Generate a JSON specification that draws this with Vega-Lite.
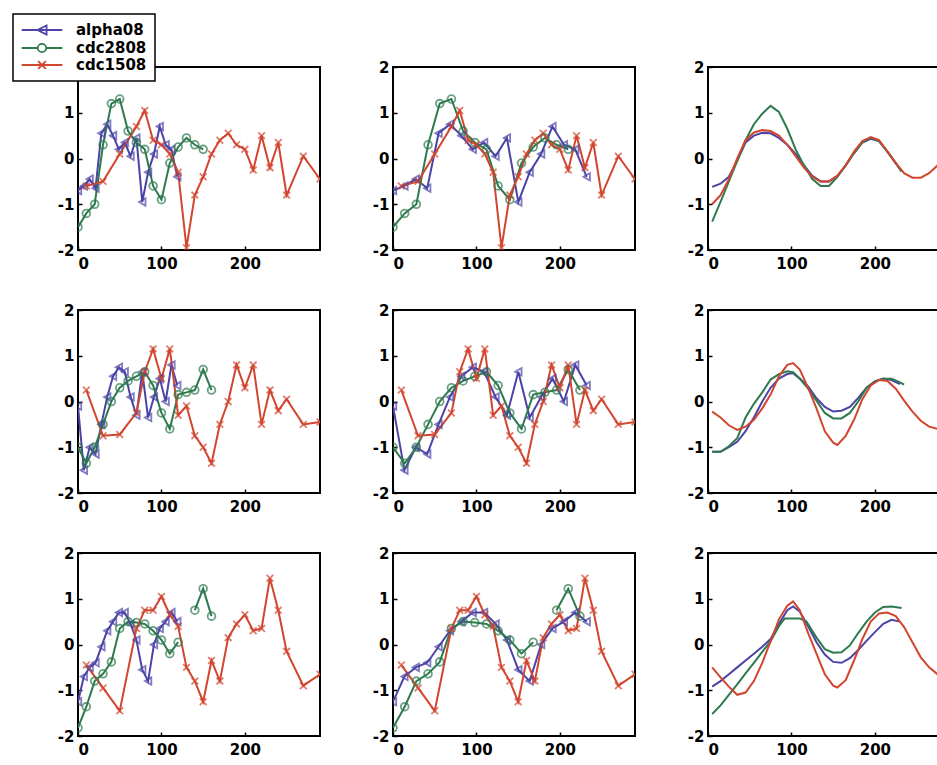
{
"$schema": "https://vega.github.io/schema/vega-lite/v6.json",
"padding": {"left": 12, "top": 13, "right": 5, "bottom": 5},
"background": "white",
"data": {"values": [
{"r":1,"c":1,"s":"alpha08","t":0,"z":-0.7},{"r":1,"c":1,"s":"alpha08","t":7,"z":-0.6},{"r":1,"c":1,"s":"alpha08","t":14,"z":-0.45},{"r":1,"c":1,"s":"alpha08","t":21,"z":-0.65},{"r":1,"c":1,"s":"alpha08","t":28,"z":0.55},{"r":1,"c":1,"s":"alpha08","t":35,"z":0.75},{"r":1,"c":1,"s":"alpha08","t":42,"z":0.5},{"r":1,"c":1,"s":"alpha08","t":49,"z":0.2},{"r":1,"c":1,"s":"alpha08","t":56,"z":0.35},{"r":1,"c":1,"s":"alpha08","t":63,"z":0.05},{"r":1,"c":1,"s":"alpha08","t":70,"z":0.45},{"r":1,"c":1,"s":"alpha08","t":77,"z":-0.95},{"r":1,"c":1,"s":"alpha08","t":84,"z":-0.3},{"r":1,"c":1,"s":"alpha08","t":91,"z":0.1},{"r":1,"c":1,"s":"alpha08","t":98,"z":0.7},{"r":1,"c":1,"s":"alpha08","t":105,"z":0.3},{"r":1,"c":1,"s":"alpha08","t":112,"z":0.2},{"r":1,"c":1,"s":"alpha08","t":119,"z":-0.4},
{"r":1,"c":1,"s":"cdc2808","t":0,"z":-1.5},{"r":1,"c":1,"s":"cdc2808","t":10,"z":-1.2},{"r":1,"c":1,"s":"cdc2808","t":20,"z":-1.0},{"r":1,"c":1,"s":"cdc2808","t":30,"z":0.3},{"r":1,"c":1,"s":"cdc2808","t":40,"z":1.2},{"r":1,"c":1,"s":"cdc2808","t":50,"z":1.3},{"r":1,"c":1,"s":"cdc2808","t":60,"z":0.6},{"r":1,"c":1,"s":"cdc2808","t":70,"z":0.35},{"r":1,"c":1,"s":"cdc2808","t":80,"z":0.2},{"r":1,"c":1,"s":"cdc2808","t":90,"z":-0.6},{"r":1,"c":1,"s":"cdc2808","t":100,"z":-0.9},{"r":1,"c":1,"s":"cdc2808","t":110,"z":-0.1},{"r":1,"c":1,"s":"cdc2808","t":120,"z":0.25},{"r":1,"c":1,"s":"cdc2808","t":130,"z":0.45},{"r":1,"c":1,"s":"cdc2808","t":140,"z":0.3},{"r":1,"c":1,"s":"cdc2808","t":150,"z":0.2},
{"r":1,"c":1,"s":"cdc1508","t":10,"z":-0.6},{"r":1,"c":1,"s":"cdc1508","t":30,"z":-0.5},{"r":1,"c":1,"s":"cdc1508","t":50,"z":0.1},{"r":1,"c":1,"s":"cdc1508","t":70,"z":0.7},{"r":1,"c":1,"s":"cdc1508","t":80,"z":1.05},{"r":1,"c":1,"s":"cdc1508","t":90,"z":0.4},{"r":1,"c":1,"s":"cdc1508","t":100,"z":0.3},{"r":1,"c":1,"s":"cdc1508","t":110,"z":0.1},{"r":1,"c":1,"s":"cdc1508","t":120,"z":-0.3},{"r":1,"c":1,"s":"cdc1508","t":130,"z":-1.95},{"r":1,"c":1,"s":"cdc1508","t":140,"z":-0.8},{"r":1,"c":1,"s":"cdc1508","t":150,"z":-0.4},{"r":1,"c":1,"s":"cdc1508","t":160,"z":0.1},{"r":1,"c":1,"s":"cdc1508","t":170,"z":0.4},{"r":1,"c":1,"s":"cdc1508","t":180,"z":0.55},{"r":1,"c":1,"s":"cdc1508","t":190,"z":0.3},{"r":1,"c":1,"s":"cdc1508","t":200,"z":0.2},{"r":1,"c":1,"s":"cdc1508","t":210,"z":-0.25},{"r":1,"c":1,"s":"cdc1508","t":220,"z":0.5},{"r":1,"c":1,"s":"cdc1508","t":230,"z":-0.2},{"r":1,"c":1,"s":"cdc1508","t":240,"z":0.35},{"r":1,"c":1,"s":"cdc1508","t":250,"z":-0.8},{"r":1,"c":1,"s":"cdc1508","t":270,"z":0.05},{"r":1,"c":1,"s":"cdc1508","t":290,"z":-0.45},

{"r":1,"c":2,"s":"alpha08","t":0,"z":-0.7},{"r":1,"c":2,"s":"alpha08","t":13.7,"z":-0.6},{"r":1,"c":2,"s":"alpha08","t":27.3,"z":-0.45},{"r":1,"c":2,"s":"alpha08","t":41,"z":-0.65},{"r":1,"c":2,"s":"alpha08","t":54.6,"z":0.55},{"r":1,"c":2,"s":"alpha08","t":68.3,"z":0.75},{"r":1,"c":2,"s":"alpha08","t":81.9,"z":0.5},{"r":1,"c":2,"s":"alpha08","t":95.6,"z":0.2},{"r":1,"c":2,"s":"alpha08","t":109.2,"z":0.35},{"r":1,"c":2,"s":"alpha08","t":122.9,"z":0.05},{"r":1,"c":2,"s":"alpha08","t":136.5,"z":0.45},{"r":1,"c":2,"s":"alpha08","t":150.2,"z":-0.95},{"r":1,"c":2,"s":"alpha08","t":163.8,"z":-0.3},{"r":1,"c":2,"s":"alpha08","t":177.5,"z":0.1},{"r":1,"c":2,"s":"alpha08","t":191.1,"z":0.7},{"r":1,"c":2,"s":"alpha08","t":204.8,"z":0.3},{"r":1,"c":2,"s":"alpha08","t":218.4,"z":0.2},{"r":1,"c":2,"s":"alpha08","t":232.1,"z":-0.4},
{"r":1,"c":2,"s":"cdc2808","t":0,"z":-1.5},{"r":1,"c":2,"s":"cdc2808","t":14,"z":-1.2},{"r":1,"c":2,"s":"cdc2808","t":28,"z":-1.0},{"r":1,"c":2,"s":"cdc2808","t":42,"z":0.3},{"r":1,"c":2,"s":"cdc2808","t":56,"z":1.2},{"r":1,"c":2,"s":"cdc2808","t":70,"z":1.3},{"r":1,"c":2,"s":"cdc2808","t":84,"z":0.6},{"r":1,"c":2,"s":"cdc2808","t":98,"z":0.35},{"r":1,"c":2,"s":"cdc2808","t":112,"z":0.2},{"r":1,"c":2,"s":"cdc2808","t":126,"z":-0.6},{"r":1,"c":2,"s":"cdc2808","t":140,"z":-0.9},{"r":1,"c":2,"s":"cdc2808","t":154,"z":-0.1},{"r":1,"c":2,"s":"cdc2808","t":168,"z":0.25},{"r":1,"c":2,"s":"cdc2808","t":182,"z":0.45},{"r":1,"c":2,"s":"cdc2808","t":196,"z":0.3},{"r":1,"c":2,"s":"cdc2808","t":210,"z":0.2},
{"r":1,"c":2,"s":"cdc1508","t":10,"z":-0.6},{"r":1,"c":2,"s":"cdc1508","t":30,"z":-0.5},{"r":1,"c":2,"s":"cdc1508","t":50,"z":0.1},{"r":1,"c":2,"s":"cdc1508","t":70,"z":0.7},{"r":1,"c":2,"s":"cdc1508","t":80,"z":1.05},{"r":1,"c":2,"s":"cdc1508","t":90,"z":0.4},{"r":1,"c":2,"s":"cdc1508","t":100,"z":0.3},{"r":1,"c":2,"s":"cdc1508","t":110,"z":0.1},{"r":1,"c":2,"s":"cdc1508","t":120,"z":-0.3},{"r":1,"c":2,"s":"cdc1508","t":130,"z":-1.95},{"r":1,"c":2,"s":"cdc1508","t":140,"z":-0.8},{"r":1,"c":2,"s":"cdc1508","t":150,"z":-0.4},{"r":1,"c":2,"s":"cdc1508","t":160,"z":0.1},{"r":1,"c":2,"s":"cdc1508","t":170,"z":0.4},{"r":1,"c":2,"s":"cdc1508","t":180,"z":0.55},{"r":1,"c":2,"s":"cdc1508","t":190,"z":0.3},{"r":1,"c":2,"s":"cdc1508","t":200,"z":0.2},{"r":1,"c":2,"s":"cdc1508","t":210,"z":-0.25},{"r":1,"c":2,"s":"cdc1508","t":220,"z":0.5},{"r":1,"c":2,"s":"cdc1508","t":230,"z":-0.2},{"r":1,"c":2,"s":"cdc1508","t":240,"z":0.35},{"r":1,"c":2,"s":"cdc1508","t":250,"z":-0.8},{"r":1,"c":2,"s":"cdc1508","t":270,"z":0.05},{"r":1,"c":2,"s":"cdc1508","t":290,"z":-0.45},

{"r":1,"c":3,"s":"alpha08","t":5,"z":-0.62},{"r":1,"c":3,"s":"alpha08","t":15,"z":-0.55},{"r":1,"c":3,"s":"alpha08","t":25,"z":-0.4},{"r":1,"c":3,"s":"alpha08","t":35,"z":-0.05},{"r":1,"c":3,"s":"alpha08","t":45,"z":0.35},{"r":1,"c":3,"s":"alpha08","t":55,"z":0.5},{"r":1,"c":3,"s":"alpha08","t":65,"z":0.56},{"r":1,"c":3,"s":"alpha08","t":75,"z":0.55},{"r":1,"c":3,"s":"alpha08","t":85,"z":0.45},{"r":1,"c":3,"s":"alpha08","t":95,"z":0.3},{"r":1,"c":3,"s":"alpha08","t":105,"z":0.1},{"r":1,"c":3,"s":"alpha08","t":115,"z":-0.15},{"r":1,"c":3,"s":"alpha08","t":125,"z":-0.38},{"r":1,"c":3,"s":"alpha08","t":135,"z":-0.5},{"r":1,"c":3,"s":"alpha08","t":145,"z":-0.5},{"r":1,"c":3,"s":"alpha08","t":155,"z":-0.38},{"r":1,"c":3,"s":"alpha08","t":165,"z":-0.15},{"r":1,"c":3,"s":"alpha08","t":175,"z":0.12},{"r":1,"c":3,"s":"alpha08","t":185,"z":0.35},{"r":1,"c":3,"s":"alpha08","t":195,"z":0.43},{"r":1,"c":3,"s":"alpha08","t":205,"z":0.38},{"r":1,"c":3,"s":"alpha08","t":215,"z":0.15},{"r":1,"c":3,"s":"alpha08","t":225,"z":-0.1},{"r":1,"c":3,"s":"alpha08","t":232,"z":-0.28},
{"r":1,"c":3,"s":"cdc2808","t":5,"z":-1.38},{"r":1,"c":3,"s":"cdc2808","t":15,"z":-0.95},{"r":1,"c":3,"s":"cdc2808","t":25,"z":-0.5},{"r":1,"c":3,"s":"cdc2808","t":35,"z":-0.05},{"r":1,"c":3,"s":"cdc2808","t":45,"z":0.4},{"r":1,"c":3,"s":"cdc2808","t":55,"z":0.75},{"r":1,"c":3,"s":"cdc2808","t":65,"z":0.98},{"r":1,"c":3,"s":"cdc2808","t":75,"z":1.15},{"r":1,"c":3,"s":"cdc2808","t":85,"z":1.02},{"r":1,"c":3,"s":"cdc2808","t":95,"z":0.65},{"r":1,"c":3,"s":"cdc2808","t":105,"z":0.2},{"r":1,"c":3,"s":"cdc2808","t":115,"z":-0.15},{"r":1,"c":3,"s":"cdc2808","t":125,"z":-0.45},{"r":1,"c":3,"s":"cdc2808","t":135,"z":-0.6},{"r":1,"c":3,"s":"cdc2808","t":145,"z":-0.6},{"r":1,"c":3,"s":"cdc2808","t":155,"z":-0.4},{"r":1,"c":3,"s":"cdc2808","t":165,"z":-0.15},{"r":1,"c":3,"s":"cdc2808","t":175,"z":0.12},{"r":1,"c":3,"s":"cdc2808","t":185,"z":0.35},{"r":1,"c":3,"s":"cdc2808","t":195,"z":0.45},{"r":1,"c":3,"s":"cdc2808","t":205,"z":0.38},{"r":1,"c":3,"s":"cdc2808","t":215,"z":0.15},{"r":1,"c":3,"s":"cdc2808","t":225,"z":-0.1},{"r":1,"c":3,"s":"cdc2808","t":232,"z":-0.28},
{"r":1,"c":3,"s":"cdc1508","t":5,"z":-1.0},{"r":1,"c":3,"s":"cdc1508","t":15,"z":-0.8},{"r":1,"c":3,"s":"cdc1508","t":25,"z":-0.45},{"r":1,"c":3,"s":"cdc1508","t":35,"z":0.0},{"r":1,"c":3,"s":"cdc1508","t":45,"z":0.4},{"r":1,"c":3,"s":"cdc1508","t":55,"z":0.57},{"r":1,"c":3,"s":"cdc1508","t":65,"z":0.62},{"r":1,"c":3,"s":"cdc1508","t":75,"z":0.6},{"r":1,"c":3,"s":"cdc1508","t":85,"z":0.5},{"r":1,"c":3,"s":"cdc1508","t":95,"z":0.3},{"r":1,"c":3,"s":"cdc1508","t":105,"z":0.05},{"r":1,"c":3,"s":"cdc1508","t":115,"z":-0.2},{"r":1,"c":3,"s":"cdc1508","t":125,"z":-0.4},{"r":1,"c":3,"s":"cdc1508","t":135,"z":-0.5},{"r":1,"c":3,"s":"cdc1508","t":145,"z":-0.5},{"r":1,"c":3,"s":"cdc1508","t":155,"z":-0.38},{"r":1,"c":3,"s":"cdc1508","t":165,"z":-0.15},{"r":1,"c":3,"s":"cdc1508","t":175,"z":0.15},{"r":1,"c":3,"s":"cdc1508","t":185,"z":0.38},{"r":1,"c":3,"s":"cdc1508","t":195,"z":0.47},{"r":1,"c":3,"s":"cdc1508","t":205,"z":0.4},{"r":1,"c":3,"s":"cdc1508","t":215,"z":0.15},{"r":1,"c":3,"s":"cdc1508","t":225,"z":-0.1},{"r":1,"c":3,"s":"cdc1508","t":235,"z":-0.32},{"r":1,"c":3,"s":"cdc1508","t":245,"z":-0.42},{"r":1,"c":3,"s":"cdc1508","t":255,"z":-0.42},{"r":1,"c":3,"s":"cdc1508","t":265,"z":-0.32},{"r":1,"c":3,"s":"cdc1508","t":275,"z":-0.15},{"r":1,"c":3,"s":"cdc1508","t":285,"z":-0.12},{"r":1,"c":3,"s":"cdc1508","t":290,"z":-0.12},

{"r":2,"c":1,"s":"alpha08","t":0,"z":-0.1},{"r":2,"c":1,"s":"alpha08","t":7,"z":-1.5},{"r":2,"c":1,"s":"alpha08","t":14,"z":-1.0},{"r":2,"c":1,"s":"alpha08","t":21,"z":-1.15},{"r":2,"c":1,"s":"alpha08","t":28,"z":-0.5},{"r":2,"c":1,"s":"alpha08","t":35,"z":0.1},{"r":2,"c":1,"s":"alpha08","t":42,"z":0.55},{"r":2,"c":1,"s":"alpha08","t":49,"z":0.75},{"r":2,"c":1,"s":"alpha08","t":56,"z":0.65},{"r":2,"c":1,"s":"alpha08","t":63,"z":0.1},{"r":2,"c":1,"s":"alpha08","t":70,"z":-0.3},{"r":2,"c":1,"s":"alpha08","t":77,"z":0.65},{"r":2,"c":1,"s":"alpha08","t":84,"z":-0.35},{"r":2,"c":1,"s":"alpha08","t":91,"z":0.1},{"r":2,"c":1,"s":"alpha08","t":98,"z":0.5},{"r":2,"c":1,"s":"alpha08","t":105,"z":0.0},{"r":2,"c":1,"s":"alpha08","t":112,"z":0.8},{"r":2,"c":1,"s":"alpha08","t":119,"z":0.35},
{"r":2,"c":1,"s":"cdc2808","t":0,"z":-1.0},{"r":2,"c":1,"s":"cdc2808","t":10,"z":-1.35},{"r":2,"c":1,"s":"cdc2808","t":20,"z":-1.0},{"r":2,"c":1,"s":"cdc2808","t":30,"z":-0.5},{"r":2,"c":1,"s":"cdc2808","t":40,"z":0.0},{"r":2,"c":1,"s":"cdc2808","t":50,"z":0.3},{"r":2,"c":1,"s":"cdc2808","t":60,"z":0.45},{"r":2,"c":1,"s":"cdc2808","t":70,"z":0.55},{"r":2,"c":1,"s":"cdc2808","t":80,"z":0.65},{"r":2,"c":1,"s":"cdc2808","t":90,"z":0.35},{"r":2,"c":1,"s":"cdc2808","t":100,"z":-0.25},{"r":2,"c":1,"s":"cdc2808","t":110,"z":-0.6},{"r":2,"c":1,"s":"cdc2808","t":120,"z":0.15},{"r":2,"c":1,"s":"cdc2808","t":130,"z":0.2},{"r":2,"c":1,"s":"cdc2808","t":140,"z":0.25},{"r":2,"c":1,"s":"cdc2808","t":150,"z":0.7},{"r":2,"c":1,"s":"cdc2808","t":160,"z":0.25},
{"r":2,"c":1,"s":"cdc1508","t":10,"z":0.25},{"r":2,"c":1,"s":"cdc1508","t":30,"z":-0.75},{"r":2,"c":1,"s":"cdc1508","t":50,"z":-0.72},{"r":2,"c":1,"s":"cdc1508","t":70,"z":-0.25},{"r":2,"c":1,"s":"cdc1508","t":80,"z":0.65},{"r":2,"c":1,"s":"cdc1508","t":90,"z":1.15},{"r":2,"c":1,"s":"cdc1508","t":100,"z":0.5},{"r":2,"c":1,"s":"cdc1508","t":110,"z":1.15},{"r":2,"c":1,"s":"cdc1508","t":120,"z":-0.3},{"r":2,"c":1,"s":"cdc1508","t":130,"z":-0.1},{"r":2,"c":1,"s":"cdc1508","t":140,"z":-0.75},{"r":2,"c":1,"s":"cdc1508","t":150,"z":-1.0},{"r":2,"c":1,"s":"cdc1508","t":160,"z":-1.35},{"r":2,"c":1,"s":"cdc1508","t":170,"z":-0.5},{"r":2,"c":1,"s":"cdc1508","t":180,"z":0.0},{"r":2,"c":1,"s":"cdc1508","t":190,"z":0.8},{"r":2,"c":1,"s":"cdc1508","t":200,"z":0.3},{"r":2,"c":1,"s":"cdc1508","t":210,"z":0.8},{"r":2,"c":1,"s":"cdc1508","t":220,"z":-0.5},{"r":2,"c":1,"s":"cdc1508","t":230,"z":0.25},{"r":2,"c":1,"s":"cdc1508","t":240,"z":-0.2},{"r":2,"c":1,"s":"cdc1508","t":250,"z":0.05},{"r":2,"c":1,"s":"cdc1508","t":270,"z":-0.5},{"r":2,"c":1,"s":"cdc1508","t":290,"z":-0.45},

{"r":2,"c":2,"s":"alpha08","t":0,"z":-0.1},{"r":2,"c":2,"s":"alpha08","t":13.7,"z":-1.5},{"r":2,"c":2,"s":"alpha08","t":27.3,"z":-1.0},{"r":2,"c":2,"s":"alpha08","t":41,"z":-1.15},{"r":2,"c":2,"s":"alpha08","t":54.6,"z":-0.5},{"r":2,"c":2,"s":"alpha08","t":68.3,"z":0.1},{"r":2,"c":2,"s":"alpha08","t":81.9,"z":0.55},{"r":2,"c":2,"s":"alpha08","t":95.6,"z":0.75},{"r":2,"c":2,"s":"alpha08","t":109.2,"z":0.65},{"r":2,"c":2,"s":"alpha08","t":122.9,"z":0.1},{"r":2,"c":2,"s":"alpha08","t":136.5,"z":-0.3},{"r":2,"c":2,"s":"alpha08","t":150.2,"z":0.65},{"r":2,"c":2,"s":"alpha08","t":163.8,"z":-0.35},{"r":2,"c":2,"s":"alpha08","t":177.5,"z":0.1},{"r":2,"c":2,"s":"alpha08","t":191.1,"z":0.5},{"r":2,"c":2,"s":"alpha08","t":204.8,"z":0.0},{"r":2,"c":2,"s":"alpha08","t":218.4,"z":0.8},{"r":2,"c":2,"s":"alpha08","t":232.1,"z":0.35},
{"r":2,"c":2,"s":"cdc2808","t":0,"z":-1.0},{"r":2,"c":2,"s":"cdc2808","t":14,"z":-1.35},{"r":2,"c":2,"s":"cdc2808","t":28,"z":-1.0},{"r":2,"c":2,"s":"cdc2808","t":42,"z":-0.5},{"r":2,"c":2,"s":"cdc2808","t":56,"z":0.0},{"r":2,"c":2,"s":"cdc2808","t":70,"z":0.3},{"r":2,"c":2,"s":"cdc2808","t":84,"z":0.45},{"r":2,"c":2,"s":"cdc2808","t":98,"z":0.55},{"r":2,"c":2,"s":"cdc2808","t":112,"z":0.65},{"r":2,"c":2,"s":"cdc2808","t":126,"z":0.35},{"r":2,"c":2,"s":"cdc2808","t":140,"z":-0.25},{"r":2,"c":2,"s":"cdc2808","t":154,"z":-0.6},{"r":2,"c":2,"s":"cdc2808","t":168,"z":0.15},{"r":2,"c":2,"s":"cdc2808","t":182,"z":0.2},{"r":2,"c":2,"s":"cdc2808","t":196,"z":0.25},{"r":2,"c":2,"s":"cdc2808","t":210,"z":0.7},{"r":2,"c":2,"s":"cdc2808","t":224,"z":0.25},
{"r":2,"c":2,"s":"cdc1508","t":10,"z":0.25},{"r":2,"c":2,"s":"cdc1508","t":30,"z":-0.75},{"r":2,"c":2,"s":"cdc1508","t":50,"z":-0.72},{"r":2,"c":2,"s":"cdc1508","t":70,"z":-0.25},{"r":2,"c":2,"s":"cdc1508","t":80,"z":0.65},{"r":2,"c":2,"s":"cdc1508","t":90,"z":1.15},{"r":2,"c":2,"s":"cdc1508","t":100,"z":0.5},{"r":2,"c":2,"s":"cdc1508","t":110,"z":1.15},{"r":2,"c":2,"s":"cdc1508","t":120,"z":-0.3},{"r":2,"c":2,"s":"cdc1508","t":130,"z":-0.1},{"r":2,"c":2,"s":"cdc1508","t":140,"z":-0.75},{"r":2,"c":2,"s":"cdc1508","t":150,"z":-1.0},{"r":2,"c":2,"s":"cdc1508","t":160,"z":-1.35},{"r":2,"c":2,"s":"cdc1508","t":170,"z":-0.5},{"r":2,"c":2,"s":"cdc1508","t":180,"z":0.0},{"r":2,"c":2,"s":"cdc1508","t":190,"z":0.8},{"r":2,"c":2,"s":"cdc1508","t":200,"z":0.3},{"r":2,"c":2,"s":"cdc1508","t":210,"z":0.8},{"r":2,"c":2,"s":"cdc1508","t":220,"z":-0.5},{"r":2,"c":2,"s":"cdc1508","t":230,"z":0.25},{"r":2,"c":2,"s":"cdc1508","t":240,"z":-0.2},{"r":2,"c":2,"s":"cdc1508","t":250,"z":0.05},{"r":2,"c":2,"s":"cdc1508","t":270,"z":-0.5},{"r":2,"c":2,"s":"cdc1508","t":290,"z":-0.45},

{"r":2,"c":3,"s":"alpha08","t":5,"z":-1.1},{"r":2,"c":3,"s":"alpha08","t":15,"z":-1.1},{"r":2,"c":3,"s":"alpha08","t":25,"z":-1.0},{"r":2,"c":3,"s":"alpha08","t":35,"z":-0.88},{"r":2,"c":3,"s":"alpha08","t":45,"z":-0.65},{"r":2,"c":3,"s":"alpha08","t":55,"z":-0.35},{"r":2,"c":3,"s":"alpha08","t":65,"z":0.0},{"r":2,"c":3,"s":"alpha08","t":75,"z":0.3},{"r":2,"c":3,"s":"alpha08","t":85,"z":0.5},{"r":2,"c":3,"s":"alpha08","t":95,"z":0.6},{"r":2,"c":3,"s":"alpha08","t":102,"z":0.62},{"r":2,"c":3,"s":"alpha08","t":110,"z":0.5},{"r":2,"c":3,"s":"alpha08","t":120,"z":0.33},{"r":2,"c":3,"s":"alpha08","t":130,"z":0.07},{"r":2,"c":3,"s":"alpha08","t":140,"z":-0.12},{"r":2,"c":3,"s":"alpha08","t":150,"z":-0.22},{"r":2,"c":3,"s":"alpha08","t":160,"z":-0.2},{"r":2,"c":3,"s":"alpha08","t":170,"z":-0.12},{"r":2,"c":3,"s":"alpha08","t":180,"z":0.08},{"r":2,"c":3,"s":"alpha08","t":190,"z":0.3},{"r":2,"c":3,"s":"alpha08","t":200,"z":0.44},{"r":2,"c":3,"s":"alpha08","t":210,"z":0.5},{"r":2,"c":3,"s":"alpha08","t":220,"z":0.47},{"r":2,"c":3,"s":"alpha08","t":230,"z":0.38},
{"r":2,"c":3,"s":"cdc2808","t":5,"z":-1.1},{"r":2,"c":3,"s":"cdc2808","t":15,"z":-1.1},{"r":2,"c":3,"s":"cdc2808","t":25,"z":-0.98},{"r":2,"c":3,"s":"cdc2808","t":35,"z":-0.8},{"r":2,"c":3,"s":"cdc2808","t":45,"z":-0.35},{"r":2,"c":3,"s":"cdc2808","t":55,"z":-0.05},{"r":2,"c":3,"s":"cdc2808","t":65,"z":0.2},{"r":2,"c":3,"s":"cdc2808","t":75,"z":0.48},{"r":2,"c":3,"s":"cdc2808","t":85,"z":0.6},{"r":2,"c":3,"s":"cdc2808","t":95,"z":0.66},{"r":2,"c":3,"s":"cdc2808","t":102,"z":0.64},{"r":2,"c":3,"s":"cdc2808","t":110,"z":0.5},{"r":2,"c":3,"s":"cdc2808","t":120,"z":0.28},{"r":2,"c":3,"s":"cdc2808","t":130,"z":0.02},{"r":2,"c":3,"s":"cdc2808","t":140,"z":-0.25},{"r":2,"c":3,"s":"cdc2808","t":150,"z":-0.37},{"r":2,"c":3,"s":"cdc2808","t":160,"z":-0.37},{"r":2,"c":3,"s":"cdc2808","t":170,"z":-0.25},{"r":2,"c":3,"s":"cdc2808","t":180,"z":0.0},{"r":2,"c":3,"s":"cdc2808","t":190,"z":0.3},{"r":2,"c":3,"s":"cdc2808","t":200,"z":0.44},{"r":2,"c":3,"s":"cdc2808","t":210,"z":0.5},{"r":2,"c":3,"s":"cdc2808","t":220,"z":0.5},{"r":2,"c":3,"s":"cdc2808","t":230,"z":0.42},{"r":2,"c":3,"s":"cdc2808","t":235,"z":0.37},
{"r":2,"c":3,"s":"cdc1508","t":5,"z":-0.22},{"r":2,"c":3,"s":"cdc1508","t":15,"z":-0.35},{"r":2,"c":3,"s":"cdc1508","t":25,"z":-0.52},{"r":2,"c":3,"s":"cdc1508","t":35,"z":-0.62},{"r":2,"c":3,"s":"cdc1508","t":45,"z":-0.55},{"r":2,"c":3,"s":"cdc1508","t":55,"z":-0.4},{"r":2,"c":3,"s":"cdc1508","t":65,"z":-0.15},{"r":2,"c":3,"s":"cdc1508","t":75,"z":0.15},{"r":2,"c":3,"s":"cdc1508","t":85,"z":0.55},{"r":2,"c":3,"s":"cdc1508","t":95,"z":0.8},{"r":2,"c":3,"s":"cdc1508","t":102,"z":0.84},{"r":2,"c":3,"s":"cdc1508","t":110,"z":0.7},{"r":2,"c":3,"s":"cdc1508","t":120,"z":0.3},{"r":2,"c":3,"s":"cdc1508","t":130,"z":-0.15},{"r":2,"c":3,"s":"cdc1508","t":140,"z":-0.65},{"r":2,"c":3,"s":"cdc1508","t":150,"z":-0.9},{"r":2,"c":3,"s":"cdc1508","t":155,"z":-0.95},{"r":2,"c":3,"s":"cdc1508","t":165,"z":-0.75},{"r":2,"c":3,"s":"cdc1508","t":175,"z":-0.4},{"r":2,"c":3,"s":"cdc1508","t":185,"z":0.05},{"r":2,"c":3,"s":"cdc1508","t":195,"z":0.35},{"r":2,"c":3,"s":"cdc1508","t":205,"z":0.47},{"r":2,"c":3,"s":"cdc1508","t":215,"z":0.45},{"r":2,"c":3,"s":"cdc1508","t":225,"z":0.28},{"r":2,"c":3,"s":"cdc1508","t":235,"z":0.02},{"r":2,"c":3,"s":"cdc1508","t":245,"z":-0.22},{"r":2,"c":3,"s":"cdc1508","t":255,"z":-0.42},{"r":2,"c":3,"s":"cdc1508","t":265,"z":-0.55},{"r":2,"c":3,"s":"cdc1508","t":275,"z":-0.6},{"r":2,"c":3,"s":"cdc1508","t":285,"z":-0.55},{"r":2,"c":3,"s":"cdc1508","t":290,"z":-0.44},

{"r":3,"c":1,"s":"alpha08","t":0,"z":-1.25},{"r":3,"c":1,"s":"alpha08","t":7,"z":-0.7},{"r":3,"c":1,"s":"alpha08","t":14,"z":-0.5},{"r":3,"c":1,"s":"alpha08","t":21,"z":-0.4},{"r":3,"c":1,"s":"alpha08","t":28,"z":-0.05},{"r":3,"c":1,"s":"alpha08","t":35,"z":0.3},{"r":3,"c":1,"s":"alpha08","t":42,"z":0.5},{"r":3,"c":1,"s":"alpha08","t":49,"z":0.7},{"r":3,"c":1,"s":"alpha08","t":56,"z":0.7},{"r":3,"c":1,"s":"alpha08","t":63,"z":0.45},{"r":3,"c":1,"s":"alpha08","t":70,"z":0.1},{"r":3,"c":1,"s":"alpha08","t":77,"z":-0.55},{"r":3,"c":1,"s":"alpha08","t":84,"z":-0.8},{"r":3,"c":1,"s":"alpha08","t":91,"z":0.0},{"r":3,"c":1,"s":"alpha08","t":98,"z":0.35},{"r":3,"c":1,"s":"alpha08","t":105,"z":0.5},{"r":3,"c":1,"s":"alpha08","t":112,"z":0.7},{"r":3,"c":1,"s":"alpha08","t":119,"z":0.5},
{"r":3,"c":1,"s":"cdc2808","t":0,"z":-1.82},{"r":3,"c":1,"s":"cdc2808","t":10,"z":-1.36},{"r":3,"c":1,"s":"cdc2808","t":20,"z":-0.8},{"r":3,"c":1,"s":"cdc2808","t":30,"z":-0.64},{"r":3,"c":1,"s":"cdc2808","t":40,"z":-0.38},{"r":3,"c":1,"s":"cdc2808","t":50,"z":0.35},{"r":3,"c":1,"s":"cdc2808","t":60,"z":0.5},{"r":3,"c":1,"s":"cdc2808","t":70,"z":0.48},{"r":3,"c":1,"s":"cdc2808","t":80,"z":0.45},{"r":3,"c":1,"s":"cdc2808","t":90,"z":0.3},{"r":3,"c":1,"s":"cdc2808","t":100,"z":0.1},{"r":3,"c":1,"s":"cdc2808","t":110,"z":-0.2},{"r":3,"c":1,"s":"cdc2808","t":120,"z":0.05},{"r":3,"c":1,"s":"cdc2808","t":130,"z":null},{"r":3,"c":1,"s":"cdc2808","t":140,"z":0.75},{"r":3,"c":1,"s":"cdc2808","t":150,"z":1.22},{"r":3,"c":1,"s":"cdc2808","t":160,"z":0.62},
{"r":3,"c":1,"s":"cdc1508","t":10,"z":-0.45},{"r":3,"c":1,"s":"cdc1508","t":30,"z":-0.95},{"r":3,"c":1,"s":"cdc1508","t":50,"z":-1.45},{"r":3,"c":1,"s":"cdc1508","t":70,"z":0.35},{"r":3,"c":1,"s":"cdc1508","t":80,"z":0.75},{"r":3,"c":1,"s":"cdc1508","t":90,"z":0.75},{"r":3,"c":1,"s":"cdc1508","t":100,"z":1.05},{"r":3,"c":1,"s":"cdc1508","t":110,"z":0.65},{"r":3,"c":1,"s":"cdc1508","t":120,"z":0.4},{"r":3,"c":1,"s":"cdc1508","t":130,"z":-0.5},{"r":3,"c":1,"s":"cdc1508","t":140,"z":-0.8},{"r":3,"c":1,"s":"cdc1508","t":150,"z":-1.25},{"r":3,"c":1,"s":"cdc1508","t":160,"z":-0.35},{"r":3,"c":1,"s":"cdc1508","t":170,"z":-0.8},{"r":3,"c":1,"s":"cdc1508","t":180,"z":0.15},{"r":3,"c":1,"s":"cdc1508","t":190,"z":0.45},{"r":3,"c":1,"s":"cdc1508","t":200,"z":0.65},{"r":3,"c":1,"s":"cdc1508","t":210,"z":0.3},{"r":3,"c":1,"s":"cdc1508","t":220,"z":0.35},{"r":3,"c":1,"s":"cdc1508","t":230,"z":1.45},{"r":3,"c":1,"s":"cdc1508","t":240,"z":0.75},{"r":3,"c":1,"s":"cdc1508","t":250,"z":-0.15},{"r":3,"c":1,"s":"cdc1508","t":270,"z":-0.9},{"r":3,"c":1,"s":"cdc1508","t":290,"z":-0.65},

{"r":3,"c":2,"s":"alpha08","t":0,"z":-1.25},{"r":3,"c":2,"s":"alpha08","t":13.7,"z":-0.7},{"r":3,"c":2,"s":"alpha08","t":27.3,"z":-0.5},{"r":3,"c":2,"s":"alpha08","t":41,"z":-0.4},{"r":3,"c":2,"s":"alpha08","t":54.6,"z":-0.05},{"r":3,"c":2,"s":"alpha08","t":68.3,"z":0.3},{"r":3,"c":2,"s":"alpha08","t":81.9,"z":0.5},{"r":3,"c":2,"s":"alpha08","t":95.6,"z":0.7},{"r":3,"c":2,"s":"alpha08","t":109.2,"z":0.7},{"r":3,"c":2,"s":"alpha08","t":122.9,"z":0.45},{"r":3,"c":2,"s":"alpha08","t":136.5,"z":0.1},{"r":3,"c":2,"s":"alpha08","t":150.2,"z":-0.55},{"r":3,"c":2,"s":"alpha08","t":163.8,"z":-0.8},{"r":3,"c":2,"s":"alpha08","t":177.5,"z":0.0},{"r":3,"c":2,"s":"alpha08","t":191.1,"z":0.35},{"r":3,"c":2,"s":"alpha08","t":204.8,"z":0.5},{"r":3,"c":2,"s":"alpha08","t":218.4,"z":0.7},{"r":3,"c":2,"s":"alpha08","t":232.1,"z":0.5},
{"r":3,"c":2,"s":"cdc2808","t":0,"z":-1.82},{"r":3,"c":2,"s":"cdc2808","t":14,"z":-1.36},{"r":3,"c":2,"s":"cdc2808","t":28,"z":-0.8},{"r":3,"c":2,"s":"cdc2808","t":42,"z":-0.64},{"r":3,"c":2,"s":"cdc2808","t":56,"z":-0.38},{"r":3,"c":2,"s":"cdc2808","t":70,"z":0.35},{"r":3,"c":2,"s":"cdc2808","t":84,"z":0.5},{"r":3,"c":2,"s":"cdc2808","t":98,"z":0.48},{"r":3,"c":2,"s":"cdc2808","t":112,"z":0.45},{"r":3,"c":2,"s":"cdc2808","t":126,"z":0.3},{"r":3,"c":2,"s":"cdc2808","t":140,"z":0.1},{"r":3,"c":2,"s":"cdc2808","t":154,"z":-0.2},{"r":3,"c":2,"s":"cdc2808","t":168,"z":0.05},{"r":3,"c":2,"s":"cdc2808","t":182,"z":null},{"r":3,"c":2,"s":"cdc2808","t":196,"z":0.75},{"r":3,"c":2,"s":"cdc2808","t":210,"z":1.22},{"r":3,"c":2,"s":"cdc2808","t":224,"z":0.62},
{"r":3,"c":2,"s":"cdc1508","t":10,"z":-0.45},{"r":3,"c":2,"s":"cdc1508","t":30,"z":-0.95},{"r":3,"c":2,"s":"cdc1508","t":50,"z":-1.45},{"r":3,"c":2,"s":"cdc1508","t":70,"z":0.35},{"r":3,"c":2,"s":"cdc1508","t":80,"z":0.75},{"r":3,"c":2,"s":"cdc1508","t":90,"z":0.75},{"r":3,"c":2,"s":"cdc1508","t":100,"z":1.05},{"r":3,"c":2,"s":"cdc1508","t":110,"z":0.65},{"r":3,"c":2,"s":"cdc1508","t":120,"z":0.4},{"r":3,"c":2,"s":"cdc1508","t":130,"z":-0.5},{"r":3,"c":2,"s":"cdc1508","t":140,"z":-0.8},{"r":3,"c":2,"s":"cdc1508","t":150,"z":-1.25},{"r":3,"c":2,"s":"cdc1508","t":160,"z":-0.35},{"r":3,"c":2,"s":"cdc1508","t":170,"z":-0.8},{"r":3,"c":2,"s":"cdc1508","t":180,"z":0.15},{"r":3,"c":2,"s":"cdc1508","t":190,"z":0.45},{"r":3,"c":2,"s":"cdc1508","t":200,"z":0.65},{"r":3,"c":2,"s":"cdc1508","t":210,"z":0.3},{"r":3,"c":2,"s":"cdc1508","t":220,"z":0.35},{"r":3,"c":2,"s":"cdc1508","t":230,"z":1.45},{"r":3,"c":2,"s":"cdc1508","t":240,"z":0.75},{"r":3,"c":2,"s":"cdc1508","t":250,"z":-0.15},{"r":3,"c":2,"s":"cdc1508","t":270,"z":-0.9},{"r":3,"c":2,"s":"cdc1508","t":290,"z":-0.65},

{"r":3,"c":3,"s":"alpha08","t":5,"z":-0.92},{"r":3,"c":3,"s":"alpha08","t":15,"z":-0.8},{"r":3,"c":3,"s":"alpha08","t":25,"z":-0.65},{"r":3,"c":3,"s":"alpha08","t":35,"z":-0.5},{"r":3,"c":3,"s":"alpha08","t":45,"z":-0.35},{"r":3,"c":3,"s":"alpha08","t":55,"z":-0.2},{"r":3,"c":3,"s":"alpha08","t":65,"z":-0.05},{"r":3,"c":3,"s":"alpha08","t":75,"z":0.12},{"r":3,"c":3,"s":"alpha08","t":85,"z":0.45},{"r":3,"c":3,"s":"alpha08","t":95,"z":0.75},{"r":3,"c":3,"s":"alpha08","t":102,"z":0.83},{"r":3,"c":3,"s":"alpha08","t":110,"z":0.72},{"r":3,"c":3,"s":"alpha08","t":120,"z":0.4},{"r":3,"c":3,"s":"alpha08","t":130,"z":0.05},{"r":3,"c":3,"s":"alpha08","t":140,"z":-0.22},{"r":3,"c":3,"s":"alpha08","t":150,"z":-0.38},{"r":3,"c":3,"s":"alpha08","t":160,"z":-0.4},{"r":3,"c":3,"s":"alpha08","t":170,"z":-0.3},{"r":3,"c":3,"s":"alpha08","t":180,"z":-0.12},{"r":3,"c":3,"s":"alpha08","t":190,"z":0.08},{"r":3,"c":3,"s":"alpha08","t":200,"z":0.27},{"r":3,"c":3,"s":"alpha08","t":210,"z":0.45},{"r":3,"c":3,"s":"alpha08","t":220,"z":0.54},{"r":3,"c":3,"s":"alpha08","t":230,"z":0.5},
{"r":3,"c":3,"s":"cdc2808","t":5,"z":-1.52},{"r":3,"c":3,"s":"cdc2808","t":15,"z":-1.33},{"r":3,"c":3,"s":"cdc2808","t":25,"z":-1.1},{"r":3,"c":3,"s":"cdc2808","t":35,"z":-0.87},{"r":3,"c":3,"s":"cdc2808","t":45,"z":-0.63},{"r":3,"c":3,"s":"cdc2808","t":55,"z":-0.4},{"r":3,"c":3,"s":"cdc2808","t":65,"z":-0.16},{"r":3,"c":3,"s":"cdc2808","t":75,"z":0.07},{"r":3,"c":3,"s":"cdc2808","t":85,"z":0.4},{"r":3,"c":3,"s":"cdc2808","t":92,"z":0.57},{"r":3,"c":3,"s":"cdc2808","t":100,"z":0.57},{"r":3,"c":3,"s":"cdc2808","t":110,"z":0.57},{"r":3,"c":3,"s":"cdc2808","t":118,"z":0.5},{"r":3,"c":3,"s":"cdc2808","t":130,"z":0.15},{"r":3,"c":3,"s":"cdc2808","t":140,"z":-0.1},{"r":3,"c":3,"s":"cdc2808","t":150,"z":-0.18},{"r":3,"c":3,"s":"cdc2808","t":160,"z":-0.17},{"r":3,"c":3,"s":"cdc2808","t":170,"z":-0.02},{"r":3,"c":3,"s":"cdc2808","t":180,"z":0.25},{"r":3,"c":3,"s":"cdc2808","t":190,"z":0.5},{"r":3,"c":3,"s":"cdc2808","t":200,"z":0.7},{"r":3,"c":3,"s":"cdc2808","t":210,"z":0.82},{"r":3,"c":3,"s":"cdc2808","t":220,"z":0.83},{"r":3,"c":3,"s":"cdc2808","t":232,"z":0.8},
{"r":3,"c":3,"s":"cdc1508","t":5,"z":-0.5},{"r":3,"c":3,"s":"cdc1508","t":15,"z":-0.72},{"r":3,"c":3,"s":"cdc1508","t":25,"z":-0.92},{"r":3,"c":3,"s":"cdc1508","t":35,"z":-1.1},{"r":3,"c":3,"s":"cdc1508","t":45,"z":-1.05},{"r":3,"c":3,"s":"cdc1508","t":55,"z":-0.8},{"r":3,"c":3,"s":"cdc1508","t":65,"z":-0.4},{"r":3,"c":3,"s":"cdc1508","t":75,"z":0.07},{"r":3,"c":3,"s":"cdc1508","t":85,"z":0.55},{"r":3,"c":3,"s":"cdc1508","t":95,"z":0.85},{"r":3,"c":3,"s":"cdc1508","t":102,"z":0.94},{"r":3,"c":3,"s":"cdc1508","t":110,"z":0.75},{"r":3,"c":3,"s":"cdc1508","t":120,"z":0.25},{"r":3,"c":3,"s":"cdc1508","t":130,"z":-0.2},{"r":3,"c":3,"s":"cdc1508","t":140,"z":-0.65},{"r":3,"c":3,"s":"cdc1508","t":150,"z":-0.9},{"r":3,"c":3,"s":"cdc1508","t":155,"z":-0.94},{"r":3,"c":3,"s":"cdc1508","t":165,"z":-0.78},{"r":3,"c":3,"s":"cdc1508","t":175,"z":-0.35},{"r":3,"c":3,"s":"cdc1508","t":185,"z":0.12},{"r":3,"c":3,"s":"cdc1508","t":195,"z":0.5},{"r":3,"c":3,"s":"cdc1508","t":205,"z":0.68},{"r":3,"c":3,"s":"cdc1508","t":215,"z":0.7},{"r":3,"c":3,"s":"cdc1508","t":225,"z":0.62},{"r":3,"c":3,"s":"cdc1508","t":235,"z":0.38},{"r":3,"c":3,"s":"cdc1508","t":245,"z":0.05},{"r":3,"c":3,"s":"cdc1508","t":255,"z":-0.28},{"r":3,"c":3,"s":"cdc1508","t":265,"z":-0.5},{"r":3,"c":3,"s":"cdc1508","t":275,"z":-0.65},{"r":3,"c":3,"s":"cdc1508","t":285,"z":-0.65},{"r":3,"c":3,"s":"cdc1508","t":290,"z":-0.62}
]},
"facet": {
  "row": {"field": "r", "type": "ordinal", "title": null, "header": {"labels": false, "title": null}},
  "column": {"field": "c", "type": "ordinal", "title": null, "header": {"labels": false, "title": null}}
},
"spacing": {"row": 60, "column": 73},
"bounds": "flush",
"resolve": {"axis": {"x": "independent", "y": "independent"}},
"spec": {
  "width": 242,
  "height": 183,
  "encoding": {
    "x": {"field": "t", "type": "quantitative", "scale": {"domain": [0, 290], "nice": false}, "axis": {"values": [0, 100, 200], "title": null, "labelPadding": 10, "labelExpr": "datum.value + ''"}},
    "y": {"field": "z", "type": "quantitative", "scale": {"domain": [-2, 2], "nice": false}, "axis": {"values": [-2, -1, 0, 1, 2], "title": null, "labelPadding": 8, "labelExpr": "datum.value + ''"}},
    "color": {"field": "s", "type": "nominal", "scale": {"domain": ["alpha08", "cdc2808", "cdc1508"], "range": ["#4b43a6", "#2d7a4e", "#d2452f"]},
      "legend": {
        "orient": "none", "legendX": -65, "legendY": -53, "title": null,
        "strokeColor": "black", "fillColor": "white", "padding": 8,
        "symbolType": "M-2.6,0L2.6,0",
        "symbolSize": 196, "symbolStrokeWidth": 1.8, "symbolOffset": 13, "labelOffset": 26,
        "labelFont": "DejaVu Sans", "labelFontSize": 15, "labelFontWeight": "bold", "labelColor": "black",
        "rowPadding": 1,
        "labelExpr": "datum.label + '\u2003\u2003'",
        "encode": {
          "legend": {"update": {"strokeWidth": {"value": 1.5}}},
          "symbols": {"update": {
            "shape": {"signal": "datum.value === 'alpha08' ? 'M-2.9,0L2.9,0M0.65,-0.65L-0.65,0L0.65,0.65Z' : datum.value === 'cdc2808' ? 'M-2.9,0L-0.6,0M0.6,0L2.9,0M0.6,0A0.6,0.6,0,1,1,-0.6,0A0.6,0.6,0,1,1,0.6,0' : 'M-2.9,0L2.9,0M-0.55,-0.55L0.55,0.55M-0.55,0.55L0.55,-0.55'"},
            "size": {"value": 196},
            "fill": {"value": "transparent"},
            "strokeWidth": {"value": 1.8}
          }}
        }
      }
    }
  },
  "layer": [
    {"mark": {"type": "line", "strokeWidth": 2, "clip": true}},
    {"transform": [{"filter": "datum.c < 3 && datum.s === 'alpha08'"}], "mark": {"type": "point", "shape": "triangle-left", "filled": false, "size": 55, "strokeWidth": 1.8, "clip": true}},
    {"transform": [{"filter": "datum.c < 3 && datum.s === 'cdc2808'"}], "mark": {"type": "point", "shape": "circle", "filled": false, "size": 60, "strokeWidth": 1.8, "clip": true}},
    {"transform": [{"filter": "datum.c < 3 && datum.s === 'cdc1508'"}], "mark": {"type": "point", "shape": "M-1,-1L1,1M-1,1L1,-1", "filled": false, "size": 45, "strokeWidth": 1.8, "clip": true}}
  ]
},
"config": {
  "font": "DejaVu Sans",
  "view": {"stroke": "black", "strokeWidth": 2},
  "axis": {"domain": false, "grid": false, "ticks": true, "tickSize": -4, "tickWidth": 1.5, "tickColor": "black", "labelFont": "DejaVu Sans", "labelFontSize": 15, "labelFontWeight": "bold", "labelColor": "black"}
}
}
